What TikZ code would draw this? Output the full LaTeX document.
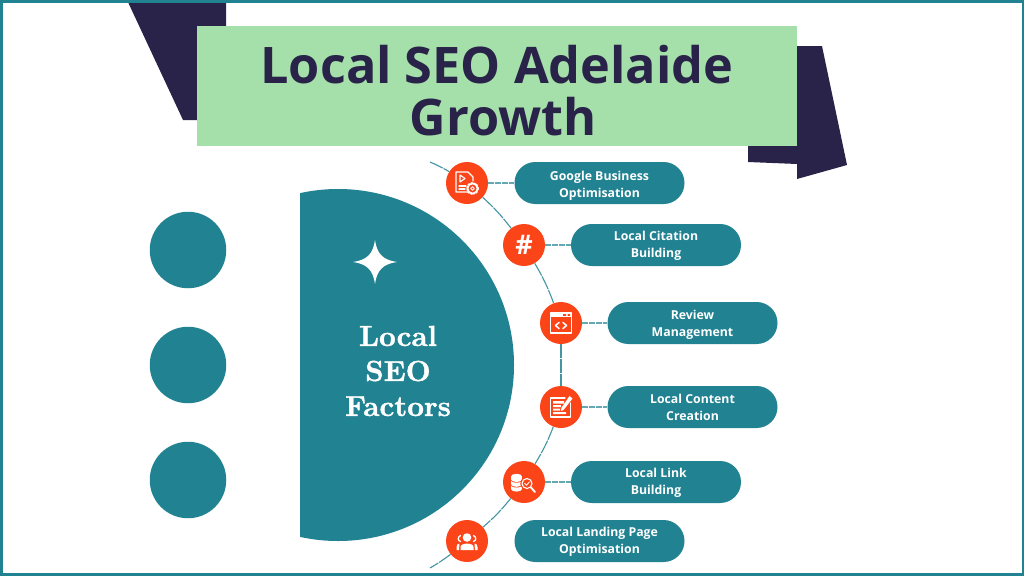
\documentclass[tikz,border=0pt]{standalone}
\usepackage{fontspec}
\setmainfont{Open Sans}
\newfontfamily\serifbold[Extension=.otf,FakeBold=1.2]{lmroman10-bold}
\usetikzlibrary{calc}
\definecolor{teal1}{HTML}{218291}
\definecolor{red1}{HTML}{FC4419}
\definecolor{navy1}{HTML}{2A2349}
\definecolor{green1}{HTML}{A5E0AA}
\newcommand{\pst}[1]{\rule{0pt}{#1pt}}
\tikzset{
  x=1pt,y=-1pt,
  pill/.style={rounded corners=20.9pt,fill=teal1,minimum width=170pt,minimum height=42pt,inner sep=0pt,align=center,text=white,font=\fontsize{12.3}{17}\selectfont\bfseries},
  badge/.style={circle,fill=red1,minimum size=42pt,inner sep=0pt,text=white,font=\fontsize{27}{27}\selectfont\bfseries},
  dot/.style={circle,fill=teal1,minimum size=76.5pt,inner sep=0pt},
  arcline/.style={teal1!85,line width=1.1pt,dash pattern=on 14pt off 1pt},
  link/.style={teal1!70,line width=1.1pt,dash pattern=on 6pt off 1pt},
  ico/.style={white,line width=1.1pt,line join=round,line cap=round},
}
\begin{document}
\begin{tikzpicture}
\useasboundingbox (0,0) rectangle (1024,576);
\fill[white] (0,0) rectangle (1024,576);
% decorative navy shapes
\fill[navy1] (127,0) -- (226,0) -- (226,40) -- (226,120) -- (183,120) -- cycle;
\fill[navy1] (780,46) -- (822,46) -- (847,165) -- (797,179) -- (797,164) -- (748,162) -- (748,120) -- cycle;
% frame
\draw[teal1,line width=3pt] (0,1.5) -- (1024,1.5);
\draw[teal1,line width=3pt] (0,574.5) -- (1024,574.5);
\draw[teal1,line width=3pt] (1,0) -- (1,576);
\draw[teal1,line width=3pt] (1023,0) -- (1023,576);
% title
\node[fill=green1,minimum width=600pt,minimum height=120pt,inner sep=0pt] (title) at (497,86) {};
\node[align=center,text=navy1,inner sep=0pt,font=\fontsize{50.4}{52}\selectfont\bfseries] (titletext) at (497,91) {Local SEO Adelaide\\\hspace*{12pt}Growth};
% left dots
\node[dot] (d1) at (188,250) {};
\node[dot] (d2) at (188,365) {};
\node[dot] (d3) at (188,480) {};
% half disc
\begin{scope}
\clip (300,150) rectangle (560,560);
\fill[teal1] (338,365) circle (176);
\end{scope}
\node[text=white,align=center,font=\serifbold\fontsize{29}{35}\selectfont] (hub) at (398,371) {Local\\SEO\\Factors};
% star
\fill[white] (375,240) .. controls (377,254) and (383,260) .. (397,262) .. controls (383,264) and (377,270) .. (375,284) .. controls (373,270) and (367,264) .. (353,262) .. controls (367,260) and (373,254) .. (375,240) -- cycle;
% free ends of the arc
\coordinate (top) at (430,162);
\coordinate (bot) at (430,568);
% badges
\node[badge] (b1) at (467,183) {};
\node[badge] (b2) at (524,245) {\#};
\node[badge] (b3) at (561,323) {};
\node[badge] (b4) at (561,407) {};
\node[badge] (b5) at (524,482) {};
\node[badge] (b6) at (467,541) {};
% pills
\node[pill] (p1) at (599.5,183) {\pst{15.5}Google Business\\Optimisation};
\node[pill] (p2) at (656,245) {\pst{11.5}Local Citation\\Building};
\node[pill] (p3) at (692.5,323) {\pst{13.5}Review\\Management};
\node[pill] (p4) at (692.5,407) {\pst{9.5}Local Content\\Creation};
\node[pill] (p5) at (656,482) {\pst{11.5}Local Link\\Building};
\node[pill] (p6) at (599.5,541) {\pst{11.5}Local Landing Page\\Optimisation};
% arc
\draw[arcline] (top) to[bend left=3] (b1);
\draw[arcline] (b1) to[bend left=5] (b2);
\draw[arcline] (b2) to[bend left=5] (b3);
\draw[arcline] (b3) -- (b4);
\draw[arcline] (b4) to[bend left=5] (b5);
\draw[arcline] (b5) to[bend left=5] (b6);
\draw[arcline] (b6) to[bend left=3] (bot);
% links
\draw[link] (b1) -- (p1);
\draw[link] (b2) -- (p2);
\draw[link] (b3) -- (p3);
\draw[link] (b4) -- (p4);
\draw[link] (b5) -- (p5);
% icon 1: document and gear
\begin{scope}[shift={(b1)}]
\draw[ico] (1,9) -- (-11,9) -- (-11,-11) -- (1,-11) -- (6,-6) -- (6,-2);
\draw[ico] (-7,-8) -- (-7,-1) -- (-2,-4.5) -- cycle;
\draw[ico] (-8,3) -- (-1,3) (-8,6) -- (-2,6);
\draw[ico,line width=1.8pt,dash pattern=on 1.6pt off 1.4pt] (5.5,5.5) circle (5.6);
\draw[ico,line width=0.9pt] (5.5,5.5) circle (4.6);
\draw[ico,line width=0.9pt] (5.5,5.5) circle (1.8);
\end{scope}
% icon 3: browser window
\begin{scope}[shift={(b3)}]
\draw[ico] (-10.5,-10) rectangle (10.5,10);
\fill[white] (-10.5,-10) rectangle (10.5,-6);
\fill[red1] (2,-8.8) rectangle (5,-7.2) (6.5,-8.8) rectangle (9,-7.2);
\draw[ico,line width=1.5pt] (-2,-0.5) -- (-5.5,2.5) -- (-2,5.5) (2,-0.5) -- (5.5,2.5) -- (2,5.5);
\end{scope}
% icon 4: note and pencil
\begin{scope}[shift={(b4)}]
\draw[ico] (4,-9) -- (-10.5,-9) -- (-10.5,10) -- (9.5,10) -- (9.5,-4);
\fill[white] (-8,-6) rectangle (3,-3.5) (-8,-2) rectangle (0,0) (-8,1.5) rectangle (-1,3.5) (-8,5) rectangle (5,7);
\fill[white] (8.5,-11) -- (11.5,-8.5) -- (2.5,3) -- (0,4) -- (0.3,1) -- cycle;
\end{scope}
% icon 5: database and magnifier
\begin{scope}[shift={(b5)}]
\foreach \yy in {7,2.2,-2.6}{
  \fill[red1] (-7.5,\yy) ellipse (6.2 and 3.3);
  \fill[white] (-7.5,\yy) ellipse (5.5 and 2.6);
  \fill[white] (-13,\yy-3) rectangle (-2,\yy);
  \fill[white] (-7.5,\yy-3) ellipse (5.5 and 2.6);
}
\draw[red1,line width=1pt,fill=red1] (3,1.5) circle (6.2);
\draw[ico] (3,1.5) circle (5);
\draw[ico,line width=0.9pt] (0.8,1.5) -- (2.5,3.2) -- (5.3,0);
\draw[ico,line width=1.9pt] (7,5.5) -- (11,10);
\end{scope}
% icon 6: people
\begin{scope}[shift={(b6)}]
\fill[white] (0,-3.5) circle (4.3);
\fill[white] (-6.5,9) -- (-6.5,6) .. controls (-6.5,1.5) and (6.5,1.5) .. (6.5,6) -- (6.5,9) -- cycle;
\draw[ico,line width=1.3pt] (-6.5,-5.5) .. controls (-9.5,-4) and (-9.5,-0.5) .. (-6.5,0.5);
\draw[ico,line width=1.3pt] (6.5,-5.5) .. controls (9.5,-4) and (9.5,-0.5) .. (6.5,0.5);
\fill[white] (-10.5,9) -- (-10.5,6) .. controls (-10.5,3.5) and (-9,2.5) .. (-7.5,2.5) -- (-8,9) -- cycle;
\fill[white] (10.5,9) -- (10.5,6) .. controls (10.5,3.5) and (9,2.5) .. (7.5,2.5) -- (8,9) -- cycle;
\end{scope}
\end{tikzpicture}
\end{document}
